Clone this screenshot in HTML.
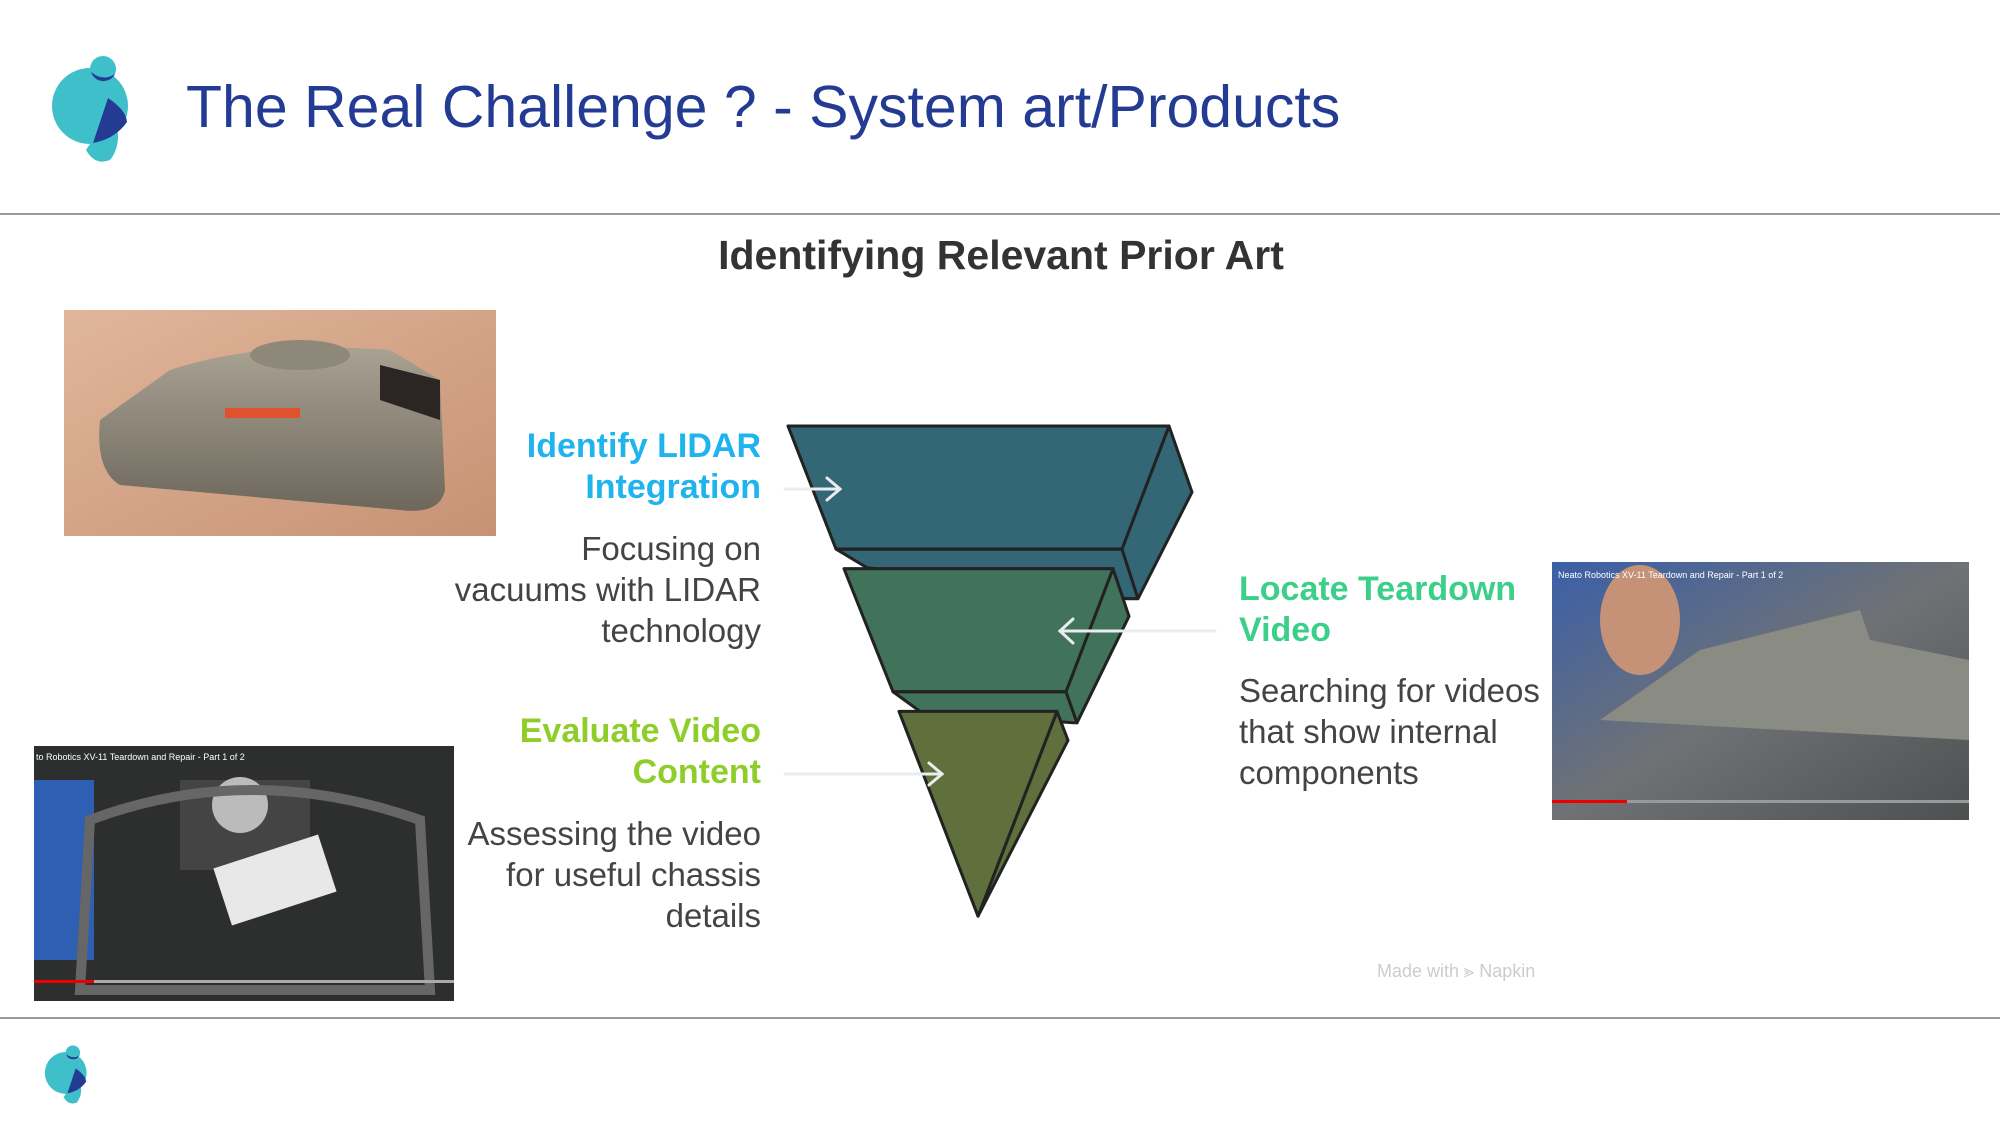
<!DOCTYPE html>
<html><head><meta charset="utf-8"><style>
body{margin:0;width:2000px;height:1125px;background:#fff;position:relative;overflow:hidden;font-family:"Liberation Sans",sans-serif}
.a{position:absolute;white-space:nowrap}
.r{text-align:right}
.h{font-weight:bold;font-size:34px;line-height:41px}
.d{font-size:33px;line-height:41px;color:#444}
</style></head><body>
<svg class="a" style="left:0;top:0" width="2000" height="1125">
  <g>
    <circle cx="90" cy="106" r="38" fill="#3fbfca"/>
    <path d="M86 150 Q95 135 116 122 Q122 145 110 160 Q95 166 86 150Z" fill="#3fbfca"/>
    <circle cx="103" cy="69" r="13" fill="#3fbfca"/>
    <path d="M91 72 Q103 82 115 74 A13 13 0 0 1 91 72Z" fill="#233b93"/>
    <path d="M108 98 Q126 110 127 122 Q115 139 93 143 Z" fill="#233b93"/>
  </g>
  <g transform="translate(41,1046) scale(0.55) translate(-45,-57)">
    <circle cx="90" cy="106" r="38" fill="#3fbfca"/>
    <path d="M86 150 Q95 135 116 122 Q122 145 110 160 Q95 166 86 150Z" fill="#3fbfca"/>
    <circle cx="103" cy="69" r="13" fill="#3fbfca"/>
    <path d="M91 72 Q103 82 115 74 A13 13 0 0 1 91 72Z" fill="#233b93"/>
    <path d="M108 98 Q126 110 127 122 Q115 139 93 143 Z" fill="#233b93"/>
  </g>
  <line x1="0" y1="214" x2="2000" y2="214" stroke="#999" stroke-width="2"/>
  <line x1="0" y1="1018" x2="2000" y2="1018" stroke="#999" stroke-width="2"/>

  <defs>
    <linearGradient id="carpet" x1="0" y1="0" x2="1" y2="1"><stop offset="0" stop-color="#e0b69a"/><stop offset="1" stop-color="#c79274"/></linearGradient>
    <linearGradient id="rob" x1="0" y1="0" x2="0" y2="1"><stop offset="0" stop-color="#a9a293"/><stop offset="1" stop-color="#6d675c"/></linearGradient>
    <linearGradient id="vid" x1="0" y1="0" x2="1" y2="1"><stop offset="0" stop-color="#3a5fa8"/><stop offset="0.5" stop-color="#6f7275"/><stop offset="1" stop-color="#4d5050"/></linearGradient>
  </defs>
  <rect x="64" y="310" width="432" height="226" fill="url(#carpet)"/>
  <path d="M100 420 L170 370 Q260 340 390 350 L440 380 L445 490 Q440 515 400 510 L120 485 Q95 470 100 420Z" fill="url(#rob)"/>
  <ellipse cx="300" cy="355" rx="50" ry="15" fill="#8e887b"/>
  <rect x="225" y="408" width="75" height="10" fill="#e0522e"/>
  <path d="M380 365 L440 380 L440 420 L380 400Z" fill="#2b2624"/>

  <rect x="34" y="746" width="420" height="255" fill="#2c2f2d"/>
  <rect x="34" y="780" width="60" height="180" fill="#2f5fb3"/>
  <rect x="180" y="780" width="130" height="90" fill="#444"/>
  <circle cx="240" cy="805" r="28" fill="#bbb"/>
  <rect x="220" y="850" width="110" height="60" fill="#e8e8e8" transform="rotate(-18 275 880)"/>
  <path d="M90 820 Q250 760 420 820 L430 990 L80 990Z" fill="none" stroke="#666" stroke-width="10"/>
  <rect x="34" y="980" width="420" height="3" fill="#aaa"/>
  <rect x="34" y="980" width="60" height="3" fill="#e00"/>
  <text x="36" y="760" font-size="9" fill="#fff" font-family="Liberation Sans">to Robotics XV-11 Teardown and Repair - Part 1 of 2</text>

  <rect x="1552" y="562" width="417" height="258" fill="url(#vid)"/>
  <path d="M1700 650 L1860 610 L1870 640 L1969 660 L1969 740 L1600 720Z" fill="#8a8c84"/>
  <ellipse cx="1640" cy="620" rx="40" ry="55" fill="#c59278"/>
  <rect x="1552" y="800" width="417" height="3" fill="#999"/>
  <rect x="1552" y="800" width="75" height="3" fill="#e00"/>
  <text x="1558" y="578" font-size="9" fill="#fff" font-family="Liberation Sans">Neato Robotics XV-11 Teardown and Repair - Part 1 of 2</text>

  <g transform="translate(0,426) scale(1,1.034) translate(0,-426)">
  <g stroke="#222" stroke-width="3" stroke-linejoin="round">
    <polygon points="836,545 1122,545 1138,593 1127,593 867,563" fill="#336776"/>
    <polygon points="1169,426 1192,490 1138,593 1122,545" fill="#336776"/>
    <polygon points="788,426 1169,426 1122,545 836,545" fill="#336776"/>
    <polygon points="893,683 1066,683 1077,713 1073,713 920,702" fill="#41735a"/>
    <polygon points="1113,564 1129,610 1077,713 1066,683" fill="#41735a"/>
    <polygon points="844,564 1113,564 1066,683 893,683" fill="#41735a"/>
    <polygon points="1057,702 1068,730 978,900" fill="#5f703c"/>
    <polygon points="899,702 1057,702 978,900" fill="#5f703c"/>
  </g>
  </g>
  <g stroke-width="3" fill="none" stroke-linecap="round">
    <line x1="785" y1="489" x2="840" y2="489" stroke="#e8eef0"/>
    <path d="M827 478 L840 489 L827 500" stroke="#e8eef0"/>
    <line x1="1215" y1="631" x2="1060" y2="631" stroke="#e8eef0"/>
    <path d="M1073 619 L1060 631 L1073 643" stroke="#e8eef0"/>
    <line x1="785" y1="774" x2="942" y2="774" stroke="#e8eef0"/>
    <path d="M929 763 L942 774 L929 785" stroke="#e8eef0"/>
  </g>
</svg>

<div class="a" style="left:186px;top:72px;font-size:59px;line-height:70px;color:#233b93">The Real Challenge ? - System art/Products</div>
<div class="a" style="left:0;width:2002px;top:230px;text-align:center;font-size:41px;font-weight:bold;color:#333;line-height:50px">Identifying Relevant Prior Art</div>

<div class="a r h" style="right:1239px;top:426px;color:#1fb4ee">Identify LIDAR<br>Integration</div>
<div class="a r d" style="right:1239px;top:528px">Focusing on<br>vacuums with LIDAR<br>technology</div>
<div class="a r h" style="right:1239px;top:711px;color:#8fce2a">Evaluate Video<br>Content</div>
<div class="a r d" style="right:1239px;top:813px">Assessing the video<br>for useful chassis<br>details</div>
<div class="a h" style="left:1239px;top:569px;color:#3ccf8a">Locate Teardown<br>Video</div>
<div class="a d" style="left:1239px;top:670px">Searching for videos<br>that show internal<br>components</div>
<div class="a" style="left:1377px;top:961px;font-size:18px;color:#ccc">Made with ⪢ Napkin</div>
</body></html>
